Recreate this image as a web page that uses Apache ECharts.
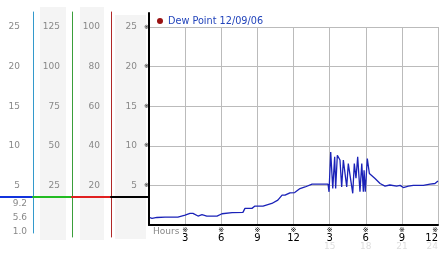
<!DOCTYPE html>
<html><head><meta charset="utf-8">
<script src="https://cdn.jsdelivr.net/npm/echarts@6/dist/echarts.min.js"></script>
<style>html,body{margin:0;padding:0;background:#fff}#c{width:442px;height:253px}</style>
</head><body><div id="c"></div>
<script>
// ---- data ----
const seriesName = 'Dew Point 12/09/06';
const hours = [0.08,0.25,0.66,1.33,2.4,3.0,3.4,3.65,4.07,4.4,4.8,5.65,6.06,6.9,7.8,7.97,8.55,8.8,9.47,10.2,10.7,11.05,11.3,11.7,12.1,12.54,12.96,13.54,14.87,14.95,15.09,15.26,15.42,15.5,15.64,15.86,16.0,16.14,16.28,16.42,16.55,16.7,16.92,17.05,17.19,17.33,17.52,17.67,17.8,17.86,17.96,18.13,18.3,18.77,19.19,19.6,20.0,20.57,20.85,21.12,21.54,21.95,22.78,23.34,23.75,24.0];
const dewPoint = [0.92,0.85,0.95,1.0,1.0,1.26,1.47,1.47,1.13,1.3,1.13,1.13,1.42,1.55,1.6,2.1,2.1,2.39,2.39,2.72,3.14,3.77,3.77,4.06,4.1,4.6,4.8,5.15,5.15,4.19,9.2,4.6,8.6,4.6,8.8,8.2,4.8,8.2,8.4,4.8,7.75,8.0,4.0,7.75,5.9,8.6,4.2,7.75,4.2,6.9,4.2,8.4,6.5,5.87,5.24,4.9,5.05,4.9,5.0,4.73,4.9,5.0,5.0,5.15,5.24,5.56];
const xTickLabels = ['3','6','9','12','3','6','9','12'];
const xSubLabels = ['','','','','15','18','21','24'];
const xName = 'Hours';
// left label columns: [max, interval]
const col1Scale = [25, 5];
const col2Scale = [125, 25];
const col3Scale = [100, 20];
const col4Scale = [25, 5];
const currentValues = ['9.2', '5.6', '1.0'];

// ---- chart ----
const FONT = 'DejaVu Sans';
const gray = '#888';
const chart = echarts.init(document.getElementById('c'), null, {renderer: 'canvas'});

function hiddenX(gi){ return {type:'value', gridIndex:gi, show:false, min:0, max:1}; }
function hiddenY(gi){ return {type:'value', gridIndex:gi, show:false, min:0, max:1}; }
function labelAxis(scale, offset, margin){
  return {type:'value', gridIndex:0, position:'left', offset:offset, min:0, max:scale[0], interval:scale[1],
    axisLine:{show:false, onZero:false}, axisTick:{show:false}, splitLine:{show:false},
    axisLabel:{margin:margin, color:gray, fontSize:9, fontFamily:FONT, formatter:v=> v===0 ? '' : String(v)}};
}
function lineAxis(gi, color, w){
  return {type:'value', gridIndex:gi, position:'left', min:0, max:1, z:3,
    axisLine:{show:true, onZero:false, lineStyle:{color:color, width:w||1}}, axisTick:{show:false}, axisLabel:{show:false}, splitLine:{show:false}};
}
function segX(gi, color){
  return {type:'value', gridIndex:gi, min:0, max:1, z:4, axisLine:{show:true, onZero:false, lineStyle:{color:color, width:2}},
    axisTick:{show:false}, axisLabel:{show:false}, splitLine:{show:false}};
}
function g(o){ return Object.assign({outerBoundsMode:'none', containLabel:false}, o); }

const grids = [
  g({left:149, right:4, top:27, bottom:28}),                    // 0 main
  g({left:149, width:1, top:13, bottom:28}),                    // 1 black vertical
  g({left:111, width:1, top:12, bottom:16}),                    // 2 red vertical
  g({left:33, width:1, top:12, bottom:20}),                     // 3 cyan vertical
  g({left:0, width:33, top:150, bottom:56}),                    // 4 blue seg
  g({left:33, width:39, top:150, bottom:56}),                   // 5 green seg
  g({left:72, width:39, top:150, bottom:56}),                   // 6 red seg
  g({left:111, width:38, top:150, bottom:56}),                  // 7 black seg
  g({left:40, width:26, top:7, bottom:13, show:true, backgroundColor:'#f4f4f4', borderWidth:0, z:-1}), // 8 bg col2
  g({left:80, width:24, top:7, bottom:13, show:true, backgroundColor:'#f4f4f4', borderWidth:0, z:-1}), // 9 bg col3
  g({left:115, width:31, top:15, bottom:14, show:true, backgroundColor:'#f4f4f4', borderWidth:0, z:-1}), // 10 bg col4
  g({left:33, width:1, top:197, bottom:15}),                    // 11 current values
  g({left:72, width:1, top:12, bottom:16})                      // 12 green vertical
];

const option = {
  animation:false,
  backgroundColor:'#fff',
  textStyle:{fontFamily:FONT},
  grid: grids,
  title:{text:xName, left:153, top:226, padding:0,
    textStyle:{color:gray, fontSize:9, fontWeight:'normal', fontFamily:FONT, lineHeight:11}},
  legend:{
    left:157, top:16, padding:0, icon:'circle', itemWidth:6, itemHeight:6, itemGap:4,
    textStyle:{color:'#2244bb', fontSize:9.7, fontFamily:FONT},
    data:[seriesName]
  },
  xAxis:[
    {type:'value', gridIndex:0, min:0, max:24, interval:3,
      axisLine:{show:true, onZero:false, lineStyle:{color:'#000', width:2}},
      axisTick:{show:false},
      splitLine:{show:true, lineStyle:{color:'#bbb', width:1}},
      axisLabel:{margin:2, interval:0, alignMaxLabel:'right',
        formatter:v=>{ if(v===0) return ''; const i=Math.round(v/3)-1; let s='{m|※}\n{n|'+xTickLabels[i]+'}'; if(xSubLabels[i]) s+='\n{g|'+xSubLabels[i]+'}'; return s; },
        rich:{ m:{fontSize:7, lineHeight:7, color:'#000', fontFamily:FONT},
               n:{fontSize:10, lineHeight:8, color:'#000', fontFamily:FONT},
               g:{fontSize:9, lineHeight:10, color:'#ddd', fontFamily:FONT} }}
    },
    hiddenX(1), hiddenX(2), hiddenX(3),
    segX(4,'#1133dd'), segX(5,'#22bb22'), segX(6,'#e02020'), segX(7,'#000'),
    hiddenX(8), hiddenX(9), hiddenX(10), hiddenX(11), hiddenX(12)
  ],
  yAxis:[
    {type:'value', gridIndex:0, min:0, max:25, interval:5,
      axisLine:{show:false, onZero:false}, axisTick:{show:false},
      splitLine:{show:true, lineStyle:{color:'#bbb', width:1}},
      axisLabel:{margin:0, fontSize:6, color:'#000', formatter:v=> v===0 ? '' : '※'}},
    labelAxis(col4Scale, 0, 12),
    labelAxis(col3Scale, 41, 8),
    labelAxis(col2Scale, 81, 8),
    labelAxis(col1Scale, 121, 8),
    lineAxis(1, '#000', 2),
    lineAxis(2, '#b02828'),
    lineAxis(3, '#3399cc'),
    hiddenY(4), hiddenY(5), hiddenY(6), hiddenY(7),
    hiddenY(8), hiddenY(9), hiddenY(10),
    {type:'category', gridIndex:11, inverse:true, data:currentValues,
      axisLine:{show:false, onZero:false}, axisTick:{show:false}, splitLine:{show:false},
      axisLabel:{margin:6, color:gray, fontSize:9, fontFamily:FONT}},
    lineAxis(12, '#3a9e3a')
  ],
  series:[{
    name:seriesName, type:'line', xAxisIndex:0, yAxisIndex:0,
    data: hours.map((h,i)=>[h, dewPoint[i]]),
    showSymbol:false, symbol:'circle',
    itemStyle:{color:'#991111'},
    lineStyle:{color:'#1a22b8', width:1.3},
    z:5
  }]
};
chart.setOption(option);
</script></body></html>
